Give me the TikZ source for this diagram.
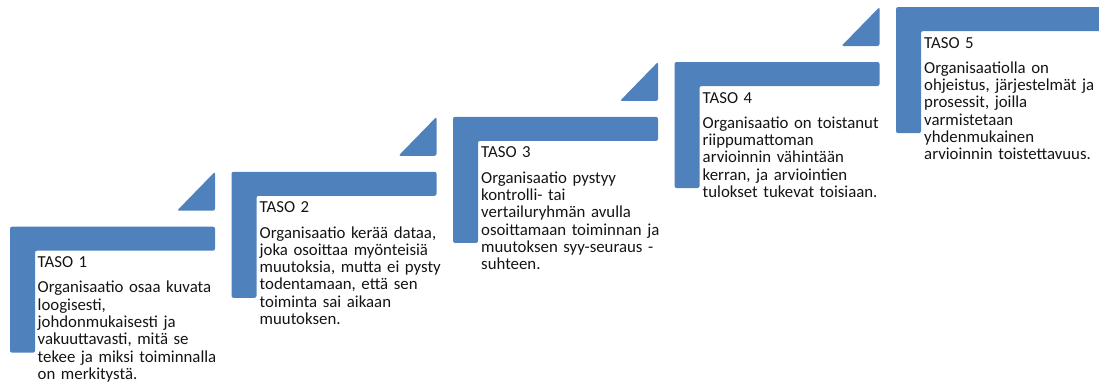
\documentclass[tikz,border=0pt]{standalone}
\usepackage{fontspec}
\setmainfont{Carlito}
\definecolor{stepblue}{HTML}{4F81BD}
\definecolor{txt}{HTML}{141414}
\begin{document}
\begin{tikzpicture}[x=1pt,y=-1pt,
  stepshape/.style={fill=stepblue, draw=none, rounded corners=2pt},
  steptext/.style={anchor=north west, inner sep=0pt, text width=230pt, align=left, text=txt, font=\fontsize{16.8}{17.3}\selectfont}]
\useasboundingbox (0,0) rectangle (1099,383);
\foreach \i in {0,...,4}{
  \pgfmathsetmacro\xo{10+221.5*\i}
  \pgfmathsetmacro\yo{226.7-54.9*\i}
  \fill[stepshape] (\xo,\yo) -- ++(205,0) -- ++(0,24) -- ++(-180,0) -- ++(0,102) -- ++(-25,0) -- cycle;
  \ifnum\i<4 \fill[stepshape] (\xo+167,\yo-16) -- (\xo+205,\yo-16) -- (\xo+205,\yo-55) -- cycle; \fi
}
\node[steptext] (t1) at (37.5,255.4) {\strut TASO 1\\[7.9pt]
Organisaatio osaa kuvata\\ loogisesti,\\ johdonmukaisesti ja\\ vakuuttavasti, mitä se\\ tekee ja miksi toiminnalla\\ on merkitystä.};
\node[steptext] (t2) at (259.5,200.5) {\strut TASO 2\\[7.9pt]
Organisaatio kerää dataa,\\ joka osoittaa myönteisiä\\ muutoksia, mutta ei pysty\\ todentamaan, että sen\\ toiminta sai aikaan\\ muutoksen.};
\node[steptext] (t3) at (481,145.6) {\strut TASO 3\\[7.9pt]
Organisaatio pystyy\\ kontrolli- tai\\ vertailuryhmän avulla\\ osoittamaan toiminnan ja\\ muutoksen syy-seuraus -\\ suhteen.};
\node[steptext] (t4) at (702.5,90.7) {\strut TASO 4\\[7.9pt]
Organisaatio on toistanut\\ riippumattoman\\ arvioinnin vähintään\\ kerran, ja arviointien\\ tulokset tukevat toisiaan.};
\node[steptext] (t5) at (924,35.8) {\strut TASO 5\\[7.9pt]
Organisaatiolla on\\ ohjeistus, järjestelmät ja\\ prosessit, joilla\\ varmistetaan\\ yhdenmukainen\\ arvioinnin toistettavuus.};
\end{tikzpicture}
\end{document}
